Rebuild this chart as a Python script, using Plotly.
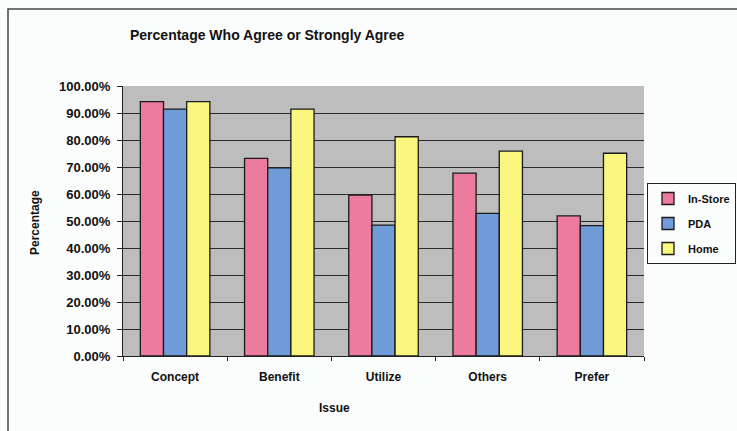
import plotly.graph_objects as go

categories = ["Concept", "Benefit", "Utilize", "Others", "Prefer"]
in_store = [0.942, 0.732, 0.596, 0.677, 0.519]
pda = [0.914, 0.697, 0.485, 0.528, 0.483]
home = [0.942, 0.914, 0.812, 0.759, 0.751]
series_names = ["In-Store", "PDA", "Home"]
colors = ["#ec7b9e", "#6f9bd8", "#fbf67e"]

FONT = "Liberation Sans, Arial, sans-serif"

L, R, T, B = 123, 644, 86, 356
PW, PH = R - L, B - T

def px(x):
    return (x - L) / PW

def py(y):
    return (B - y) / PH

fig = go.Figure()
for name, vals, col in zip(series_names, [in_store, pda, home], colors):
    fig.add_trace(go.Bar(
        name=name, x=categories, y=vals, legendgroup=name,
        marker=dict(color=col, line=dict(color="#1a1a1a", width=1.3)),
    ))

fig.update_layout(
    width=737, height=431,
    margin=dict(l=L, r=737 - R, t=T, b=431 - B, autoexpand=False),
    paper_bgcolor="#fbfcfc",
    plot_bgcolor="#bdbdbd",
    barmode="group", bargap=0.333, bargroupgap=0,
    font=dict(family=FONT, size=12, color="#111", weight="bold"),
    showlegend=True,
    legend=dict(
        x=px(647), y=py(183), xanchor="left", yanchor="top",
        bordercolor="#222", borderwidth=1, bgcolor="#fbfcfc",
        font=dict(family=FONT, size=11, color="#111", weight="bold"),
        tracegroupgap=6, itemwidth=30,
    ),
    xaxis=dict(
        type="category", showline=True, linecolor="#222", linewidth=1,
        ticks="outside", tickson="boundaries", ticklen=4, tickcolor="#222",
        ticklabelstandoff=10,
        tickfont=dict(family=FONT, size=12, weight="bold"),
        showgrid=False,
    ),
    yaxis=dict(
        range=[0, 1.0], dtick=0.1, tickformat=".2%",
        showline=True, linecolor="#222", linewidth=1,
        ticks="outside", ticklen=5, tickcolor="#222",
        ticklabelstandoff=4,
        gridcolor="#2a2a2a", gridwidth=1,
        tickfont=dict(family=FONT, size=13, weight="bold"),
        zeroline=False,
    ),
    annotations=[
        dict(text="Percentage Who Agree or Strongly Agree", xref="paper", yref="paper",
             x=px(267), y=py(35), xanchor="center", yanchor="middle", showarrow=False,
             font=dict(family=FONT, size=14, weight="bold", color="#111")),
        dict(text="Percentage", xref="paper", yref="paper",
             x=px(35), y=py(223), xanchor="center", yanchor="middle",
             textangle=-90, showarrow=False,
             font=dict(family=FONT, size=12, weight="bold", color="#111")),
        dict(text="Issue", xref="paper", yref="paper",
             x=px(334), y=py(408), xanchor="center", yanchor="middle",
             showarrow=False, font=dict(family=FONT, size=12, weight="bold", color="#111")),
    ],
    shapes=[
        dict(type="rect", xref="paper", yref="paper",
             x0=px(8), x1=px(745), y0=py(440), y1=py(9),
             line=dict(color="#444", width=1.5), layer="below"),
    ],
)

fig.write_html("out.html")
